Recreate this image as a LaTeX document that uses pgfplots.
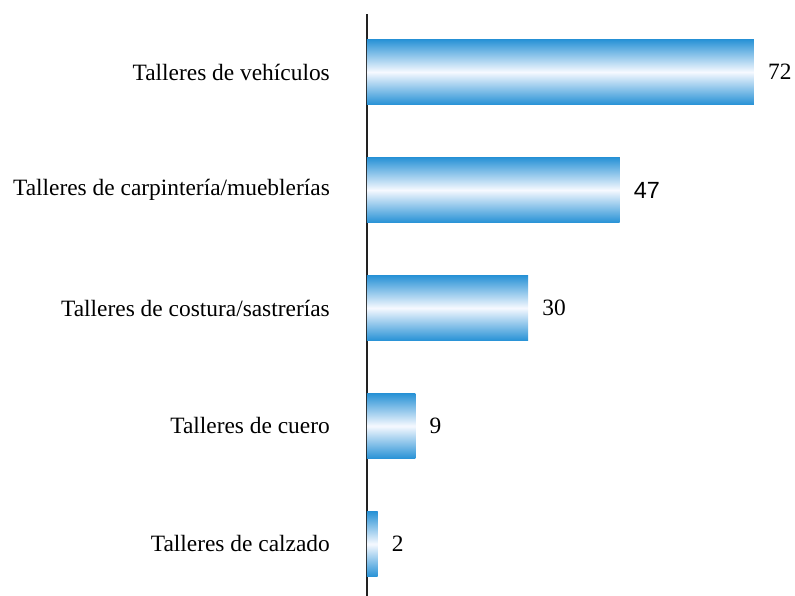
\documentclass[border=0pt]{standalone}
\usepackage{fontspec}
\setmainfont{Liberation Serif}
\newfontfamily\sansf{Liberation Sans}
\usepackage{pgfplots}
\pgfplotsset{compat=1.18}
\definecolor{barblue}{RGB}{40,146,214}
\definecolor{barmid}{RGB}{246,249,255}
\definecolor{axisgray}{RGB}{34,34,34}
\begin{document}
\begin{tikzpicture}[x=1pt,y=1pt]
\fontsize{23.4}{27}\selectfont
\begin{axis}[
  scale only axis,
  width=428pt, height=582pt,
  xmin=0, xmax=79.63,
  ymin=-0.4407, ymax=4.4915,
  axis x line=none,
  axis y line*=left,
  y axis line style={line width=2pt, draw=axisgray},
  ytick={0,1,2,3,4},
  yticklabels={Talleres de calzado,Talleres de cuero,Talleres de costura/sastrerías,Talleres de carpintería/mueblerías,Talleres de vehículos},
  ytick style={draw=none},
  major tick length=0pt,
  yticklabel style={font=\fontsize{23.4}{27}\selectfont, anchor=east, inner sep=0pt, xshift=-37pt},
  xbar, bar width=65pt, bar shift=0pt,
  point meta=explicit symbolic,
  nodes near coords,
  every node near coord/.append style={font=\fontsize{23.4}{27}\selectfont, anchor=west, inner sep=0pt, xshift=14pt, text=black},
  every axis plot/.append style={draw=none, top color=barblue, bottom color=barblue, middle color=barmid},
  clip=false,
]
\addplot coordinates {(2,0) [2]};
\addplot coordinates {(9,1) [9]};
\addplot coordinates {(30,2) [30]};
\addplot coordinates {(47,3) [{\sansf 47}]};
\addplot coordinates {(72,4) [72]};
\end{axis}
\pgfresetboundingbox
\path[use as bounding box] (current axis.south west) ++(-367pt,0) rectangle ++(795pt,596pt);
\end{tikzpicture}
\end{document}
